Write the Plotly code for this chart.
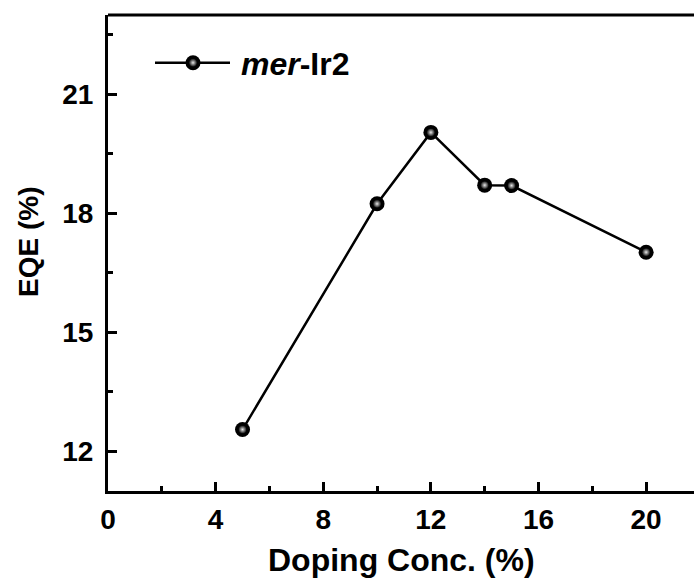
import plotly.graph_objects as go

# EQE versus doping concentration for mer-Ir2
doping = [5, 10, 12, 14, 15, 20]
eqe = [12.55, 18.24, 20.04, 18.71, 18.70, 17.02]
series_name = "mer-Ir2"

x_ticks = [0, 4, 8, 12, 16, 20]
y_ticks = [12, 15, 18, 21]

FONT = "Liberation Sans, Arial, sans-serif"
L, R, T, B = 108, 0, 15, 92          # margins in px
W, H = 694, 583
PW, PH = W - L - R, H - T - B        # plot area size

fig = go.Figure()

# connecting line
fig.add_trace(go.Scatter(
    x=doping, y=eqe, mode="lines",
    line=dict(color="black", width=2.5), showlegend=False, hoverinfo="skip"))
# ball markers: dark body plus a soft highlight
fig.add_trace(go.Scatter(
    x=doping, y=eqe, mode="markers", name=series_name,
    marker=dict(size=15, color="black", line=dict(width=0)),
    showlegend=False))
fig.add_trace(go.Scatter(
    x=doping, y=eqe, mode="markers",
    marker=dict(size=8, color="#111111", line=dict(width=0),
                gradient=dict(type="radial", color="#e8e8e8")),
    showlegend=False, hoverinfo="skip"))

# legend sample drawn on a hidden unit overlay
leg_x = [(155 - L) / PW, (230 - L) / PW]
leg_y = [(H - B - 62.7) / PH] * 2
leg_mx = (193 - L) / PW
fig.add_trace(go.Scatter(
    x=leg_x, y=leg_y, xaxis="x2", yaxis="y2", mode="lines",
    line=dict(color="black", width=2.5), showlegend=False, hoverinfo="skip"))
fig.add_trace(go.Scatter(
    x=[leg_mx], y=[leg_y[0]], xaxis="x2", yaxis="y2", mode="markers",
    marker=dict(size=15, color="black", line=dict(width=0)),
    showlegend=False, hoverinfo="skip"))
fig.add_trace(go.Scatter(
    x=[leg_mx], y=[leg_y[0]], xaxis="x2", yaxis="y2", mode="markers",
    marker=dict(size=8, color="#111111", line=dict(width=0),
                gradient=dict(type="radial", color="#e8e8e8")),
    showlegend=False, hoverinfo="skip"))

fig.add_annotation(
    x=(239 - L) / PW, y=(H - B - 64) / PH, xref="paper", yref="paper",
    xanchor="left", yanchor="middle",
    text="<b><i>mer</i>-Ir2</b>", showarrow=False,
    font=dict(family=FONT, size=32, color="black"))

# axis titles
fig.add_annotation(
    x=0.5, y=-(560 - (H - B)) / PH, xref="paper", yref="paper",
    xanchor="center", yanchor="middle", showarrow=False,
    text="<b>Doping Conc. (%)</b>", font=dict(family=FONT, size=32, color="black"))
fig.add_annotation(
    x=(28 - L) / PW, y=(H - B - 242) / PH, xref="paper", yref="paper",
    xanchor="center", yanchor="middle", showarrow=False, textangle=-90,
    text="<b>EQE (%)</b>", font=dict(family=FONT, size=28, color="black"))

tick_font = dict(family=FONT, size=28, color="black")

fig.update_layout(
    width=W, height=H,
    margin=dict(l=L, r=R, t=T, b=B),
    paper_bgcolor="white", plot_bgcolor="white",
    font=dict(family=FONT, size=28, color="black"),
    xaxis=dict(
        range=[0, 21.78], tickvals=x_ticks, ticktext=[f"<b>{v}</b>" for v in x_ticks],
        showline=True, linecolor="black", linewidth=3, mirror=False,
        ticks="inside", ticklen=9, tickwidth=3, tickcolor="black",
        minor=dict(ticks="inside", ticklen=5, tickwidth=3, dtick=2, tick0=0, tickcolor="black"),
        tickfont=tick_font, showgrid=False, zeroline=False, ticklabelstandoff=1),
    yaxis=dict(
        range=[11, 23], tickvals=y_ticks, ticktext=[f"<b>{v}</b>" for v in y_ticks],
        showline=True, linecolor="black", linewidth=3, mirror=False,
        ticks="inside", ticklen=9, tickwidth=3, tickcolor="black",
        minor=dict(ticks="inside", ticklen=5, tickwidth=3, dtick=1.5, tick0=12, tickcolor="black"),
        tickfont=tick_font, showgrid=False, zeroline=False, ticklabelstandoff=6),
    xaxis2=dict(range=[0, 1], overlaying="x", visible=False, anchor="y2"),
    yaxis2=dict(range=[0, 1], overlaying="y", visible=False, anchor="x2"),
    shapes=[dict(type="line", xref="paper", yref="paper", x0=0, x1=1, y0=1, y1=1,
                 line=dict(color="black", width=3))],
)

fig.write_html("out.html")
